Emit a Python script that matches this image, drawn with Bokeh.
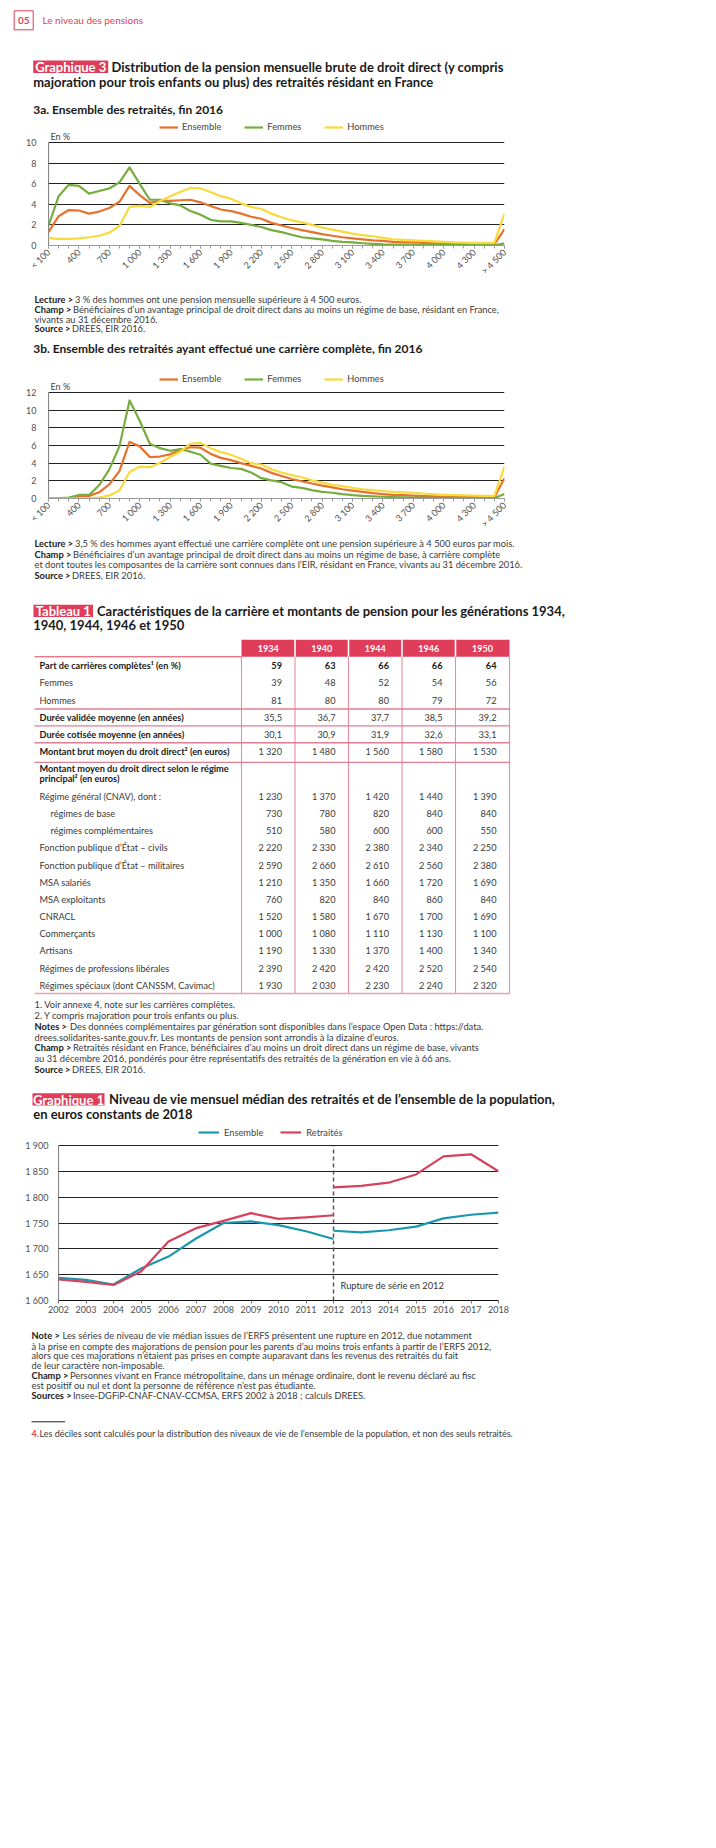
import math
from bokeh.plotting import figure
from bokeh.models import Range1d, FixedTicker, Legend, LegendItem, Label
from bokeh.layouts import column
from bokeh.embed import file_html
from bokeh.resources import INLINE
from bokeh.core.properties import value

# ---------------- data ----------------
categories_3 = ["< 100", "200", "300", "400", "500", "600", "700", "800", "900", "1 000",
                "1 100", "1 200", "1 300", "1 400", "1 500", "1 600", "1 700", "1 800", "1 900", "2 000",
                "2 100", "2 200", "2 300", "2 400", "2 500", "2 600", "2 700", "2 800", "2 900", "3 000",
                "3 100", "3 200", "3 300", "3 400", "3 500", "3 600", "3 700", "3 800", "3 900", "4 000",
                "4 100", "4 200", "4 300", "4 400", "4 500", "> 4 500"]
shown_ticks_3 = ["< 100", "400", "700", "1 000", "1 300", "1 600", "1 900", "2 200", "2 500",
                 "2 800", "3 100", "3 400", "3 700", "4 000", "4 300", "> 4 500"]

ens_3a = [1.3, 2.85, 3.45, 3.4, 3.1, 3.3, 3.65, 4.25, 5.8, 4.9, 4.15, 4.35, 4.35, 4.4, 4.45,
          4.2, 3.85, 3.5, 3.35, 3.1, 2.8, 2.6, 2.2, 1.95, 1.7, 1.5, 1.3, 1.1, 0.95, 0.8,
          0.7, 0.6, 0.5, 0.45, 0.35, 0.3, 0.3, 0.25, 0.2, 0.2, 0.15, 0.15, 0.12, 0.1, 0.1, 1.6]
fem_3a = [1.9, 4.8, 5.9, 5.8, 5.05, 5.3, 5.55, 6.15, 7.6, 6.0, 4.45, 4.45, 4.1, 3.9, 3.35,
          3.0, 2.5, 2.35, 2.35, 2.2, 2.0, 1.8, 1.5, 1.3, 1.05, 0.8, 0.7, 0.6, 0.45, 0.35,
          0.3, 0.22, 0.15, 0.1, 0.08, 0.07, 0.06, 0.05, 0.05, 0.04, 0.04, 0.03, 0.03, 0.03, 0.02, 0.2]
hom_3a = [0.72, 0.65, 0.65, 0.7, 0.8, 0.95, 1.25, 1.9, 3.75, 3.85, 3.75, 4.3, 4.8, 5.2, 5.6,
          5.55, 5.2, 4.8, 4.55, 4.1, 3.75, 3.55, 3.1, 2.75, 2.45, 2.25, 2.0, 1.75, 1.55, 1.35,
          1.15, 1.0, 0.9, 0.75, 0.6, 0.55, 0.5, 0.45, 0.4, 0.35, 0.3, 0.28, 0.25, 0.25, 0.25, 3.1]

ens_3b = [0.05, 0.05, 0.05, 0.2, 0.3, 0.7, 1.6, 3.1, 6.4, 5.9, 4.7, 4.75, 5.0, 5.5, 5.8,
          5.75, 5.05, 4.6, 4.35, 4.0, 3.7, 3.4, 2.9, 2.55, 2.2, 1.95, 1.7, 1.45, 1.25, 1.05,
          0.9, 0.75, 0.6, 0.5, 0.42, 0.38, 0.33, 0.28, 0.25, 0.2, 0.18, 0.15, 0.15, 0.12, 0.12, 2.3]
fem_3b = [0.05, 0.05, 0.1, 0.4, 0.4, 1.5, 3.3, 5.9, 11.1, 8.8, 6.2, 5.7, 5.4, 5.6, 5.3,
          4.95, 3.95, 3.7, 3.45, 3.35, 2.95, 2.3, 2.05, 1.85, 1.35, 1.2, 0.95, 0.75, 0.65, 0.5,
          0.38, 0.3, 0.25, 0.2, 0.15, 0.12, 0.1, 0.1, 0.08, 0.08, 0.07, 0.06, 0.06, 0.05, 0.05, 0.5]
hom_3b = [0.0, 0.0, 0.0, 0.02, 0.05, 0.1, 0.35, 0.9, 3.0, 3.6, 3.55, 4.05, 4.7, 5.3, 6.2,
          6.3, 5.7, 5.25, 4.95, 4.5, 4.0, 3.85, 3.3, 2.95, 2.65, 2.4, 2.05, 1.8, 1.55, 1.4,
          1.2, 1.05, 0.95, 0.85, 0.75, 0.7, 0.65, 0.55, 0.48, 0.42, 0.38, 0.35, 0.32, 0.3, 0.3, 3.6]

years_old = [2002, 2003, 2004, 2005, 2006, 2007, 2008, 2009, 2010, 2011, 2012]
ensemble_old = [1644, 1640, 1631, 1662, 1685, 1720, 1750, 1753, 1746, 1734, 1719]
retraites_old = [1641, 1636, 1630, 1656, 1714, 1740, 1754, 1769, 1758, 1761, 1765]
years_new = [2012, 2013, 2014, 2015, 2016, 2017, 2018]
ensemble_new = [1735, 1732, 1736, 1743, 1759, 1766, 1770]
retraites_new = [1819, 1822, 1828, 1844, 1879, 1883, 1850]
years_ticks = [2002, 2003, 2004, 2005, 2006, 2007, 2008, 2009, 2010, 2011, 2012,
               2013, 2014, 2015, 2016, 2017, 2018]
g1_yticks = [1600, 1650, 1700, 1750, 1800, 1850, 1900]
rupture_year = 2012

table_years = ["1934", "1940", "1944", "1946", "1950"]
table_labels = ["Part de carrières complètes\u00b9 (en %)", "Femmes", "Hommes",
                "Durée validée moyenne (en années)", "Durée cotisée moyenne (en années)",
                "Montant brut moyen du droit direct\u00b2 (en euros)",
                "Montant moyen du droit direct selon le régime|principal\u00b2 (en euros)",
                "Régime général (CNAV), dont :", "régimes de base", "régimes complémentaires",
                "Fonction publique d\u2019État \u2013 civils", "Fonction publique d\u2019État \u2013 militaires",
                "MSA salariés", "MSA exploitants", "CNRACL", "Commerçants", "Artisans",
                "Régimes de professions libérales", "Régimes spéciaux (dont CANSSM, Cavimac)"]
v1934 = [59, 39, 81, 35.5, 30.1, 1320, None, 1230, 730, 510, 2220, 2590, 1210, 760, 1520, 1000, 1190, 2390, 1930]
v1940 = [63, 48, 80, 36.7, 30.9, 1480, None, 1370, 780, 580, 2330, 2660, 1350, 820, 1580, 1080, 1330, 2420, 2030]
v1944 = [66, 52, 80, 37.7, 31.9, 1560, None, 1420, 820, 600, 2380, 2610, 1660, 840, 1670, 1110, 1370, 2420, 2230]
v1946 = [66, 54, 79, 38.5, 32.6, 1580, None, 1440, 840, 600, 2340, 2560, 1720, 860, 1700, 1130, 1400, 2520, 2240]
v1950 = [64, 56, 72, 39.2, 33.1, 1530, None, 1390, 840, 550, 2250, 2380, 1690, 840, 1690, 1100, 1340, 2540, 2320]

# ---------------- style ----------------
FONT = "Lato"
RED = "#e03d5b"
INK = "#1a1a1a"
TXT = "#3a3a3a"
C_ENS = "#e8722c"
C_FEM = "#76ad3f"
C_HOM = "#f8da3a"
C_G1E = "#1b98b0"
C_G1R = "#d6425c"
W = 700
TS = 13      # title size
SS = 12      # sub-title size
NS = 9.3     # note size
LEG_SHIFT = 4


def text_fig(top, bottom):
    p = figure(width=W, height=bottom - top, x_range=Range1d(8, 8 + W), y_range=Range1d(bottom, top),
               x_axis_location=None, y_axis_location=None, output_backend="svg",
               toolbar_location=None, min_border=0, outline_line_color=None, frame_align=False)
    p.grid.visible = False
    return p


def T(p, x, y, s, size=NS, bold=False, color=TXT, align="left"):
    p.text(x=[x], y=[y], text=[s], text_font=value(FONT), text_font_size=f"{size}px",
           text_font_style="bold" if bold else "normal", text_color=color,
           text_align=align, text_baseline="middle")


def note(p, x, y, prefix, rest, off, size=NS):
    T(p, x, y, prefix, size, True, INK)
    T(p, x + off, y, rest, size, False, TXT)


def tag(p, l, t, r, b, s, size):
    p.quad(left=[l], right=[r], top=[t], bottom=[b], fill_color=RED, line_color=None)
    T(p, (l + r) / 2, (t + b) / 2 + 0.3, s, size, True, "white", "center")


def make_legend(items, loc, gw, spacing, standoff):
    return Legend(items=items, orientation="horizontal", location=loc, glyph_width=gw, glyph_height=10,
                  label_height=10, label_width=10, label_standoff=standoff, spacing=spacing, padding=0,
                  margin=0, border_line_color=None, background_fill_alpha=0,
                  label_text_font=FONT, label_text_font_size="9.3px", label_text_color="#444")


def dist_chart(top, grid_top, frame_bottom, bottom, ymax, ens, fem, hom, legend_y):
    idx = list(range(len(categories_3)))
    fh = frame_bottom - top
    ytop = ymax * fh / (frame_bottom - grid_top)
    p = figure(width=W, height=bottom - top, x_range=Range1d(0, len(categories_3) - 1),
               y_range=Range1d(0, ytop), min_border_left=48, min_border_right=196,
               min_border_top=0, min_border_bottom=bottom - frame_bottom,
               output_backend="svg", toolbar_location=None, outline_line_color=None, frame_align=False)
    yt = list(range(0, ymax + 1, 2))
    p.xgrid.visible = False
    p.ygrid.ticker = FixedTicker(ticks=yt[1:])
    p.ygrid.grid_line_color = "#222"
    p.ygrid.grid_line_width = 1.2
    p.segment(x0=[0], y0=[0], x1=[0], y1=[ymax], line_color="#111", line_width=1.1)
    r1 = p.line(idx, ens, line_color=C_ENS, line_width=2.2, line_join="round")
    r2 = p.line(idx, fem, line_color=C_FEM, line_width=2.2, line_join="round")
    r3 = p.line(idx, hom, line_color=C_HOM, line_width=2.2, line_join="round")
    major = [categories_3.index(c) for c in shown_ticks_3]
    p.xaxis.ticker = FixedTicker(ticks=major, minor_ticks=idx)
    p.xaxis.major_label_overrides = {i: categories_3[i] for i in major}
    p.xaxis.major_label_orientation = math.pi / 4
    p.xaxis.axis_line_color = "#9a9a9a"
    p.xaxis.major_tick_line_color = "#9a9a9a"
    p.xaxis.minor_tick_line_color = "#9a9a9a"
    p.xaxis.major_tick_in = 0
    p.xaxis.major_tick_out = 3
    p.xaxis.minor_tick_in = 0
    p.xaxis.minor_tick_out = 3
    p.xaxis.major_label_standoff = 2
    p.yaxis.ticker = FixedTicker(ticks=yt, minor_ticks=[])
    p.yaxis.major_tick_line_color = None
    p.yaxis.minor_tick_line_color = None
    p.yaxis.axis_line_color = None
    p.yaxis.major_label_standoff = 6
    for ax in (p.xaxis, p.yaxis):
        ax.major_label_text_font = FONT
        ax.major_label_text_font_size = "9px"
        ax.major_label_text_color = "#505050"
    lg = make_legend([LegendItem(label="Ensemble", renderers=[r1]),
                      LegendItem(label="Femmes", renderers=[r2]),
                      LegendItem(label="Hommes", renderers=[r3])],
                     (111, frame_bottom - legend_y - 5 - LEG_SHIFT), 19, 23, 4)
    p.add_layout(lg, "center")
    p.add_layout(Label(x=0, y=ymax, x_offset=2, y_offset=1, text="En %", text_baseline="bottom",
                       text_font=FONT, text_font_size="9px", text_color="#444"))
    return p


# ---------------- section 1 ----------------
s1 = text_fig(8, 124)
s1.quad(left=[21.7], right=[40.7], top=[18.3], bottom=[37.3], fill_color=None, line_color=RED, line_width=1)
T(s1, 31.2, 28, "05", 10, True, RED, "center")
T(s1, 50, 27.5, "Le niveau des pensions", 10, False, RED)
tag(s1, 40.7, 68, 115.7, 80.5, "Graphique 3", TS)
T(s1, 119, 74, "Distribution de la pension mensuelle brute de droit direct (y compris", TS, True, INK)
T(s1, 40.7, 89, "majoration pour trois enfants ou plus) des retraités résidant en France", TS, True, INK)
T(s1, 40.7, 117, "3a. Ensemble des retraités, fin 2016", SS, True, INK)

# ---------------- chart 3a ----------------
c3a = dist_chart(124, 151, 257, 290, 10, ens_3a, fem_3a, hom_3a, 135)

# ---------------- section 3 ----------------
s3 = text_fig(290, 372)
note(s3, 42, 306.7, "Lecture >", "3 % des hommes ont une pension mensuelle supérieure à 4 500 euros.", 40.5)
note(s3, 42, 316.7, "Champ >", "Bénéficiaires d\u2019un avantage principal de droit direct dans au moins un régime de base, résidant en France,", 38.5)
T(s3, 42, 326.7, "vivants au 31 décembre 2016.")
note(s3, 42, 336.3, "Source >", "DREES, EIR 2016.", 37.5)
T(s3, 40.7, 355.7, "3b. Ensemble des retraités ayant effectué une carrière complète, fin 2016", SS, True, INK)

# ---------------- chart 3b ----------------
c3b = dist_chart(372, 400, 506, 543, 12, ens_3b, fem_3b, hom_3b, 383.3)

# ---------------- section 5 (notes 3b + table) ----------------
s5 = text_fig(543, 1130)
note(s5, 42, 550.7, "Lecture >", "3,5 % des hommes ayant effectué une carrière complète ont une pension supérieure à 4 500 euros par mois.", 40.5)
note(s5, 42, 561.5, "Champ >", "Bénéficiaires d\u2019un avantage principal de droit direct dans au moins un régime de base, à carrière complète", 38.5)
T(s5, 42, 572.2, "et dont toutes les composantes de la carrière sont connues dans l\u2019EIR, résidant en France, vivants au 31 décembre 2016.")
note(s5, 42, 582.5, "Source >", "DREES, EIR 2016.", 37.5)
tag(s5, 41, 612.3, 100.5, 624.5, "Tableau 1", TS)
T(s5, 104.5, 618.3, "Caractéristiques de la carrière et montants de pension pour les générations 1934,", TS, True, INK)
T(s5, 40.7, 632.7, "1940, 1944, 1946 et 1950", TS, True, INK)

col_edges = [249, 302.5, 356, 409.5, 463, 517]
tab_left = 42
head_top, head_bot = 647.3, 664.3
tab_bottom = 1001
row_y = [672.7, 690.2, 708, 725, 741.8, 758.7, 781, 803.7, 821, 837.9, 855, 872.5,
         889.8, 906.9, 924, 941.2, 958.3, 975.6, 992.8]
sep_after = [2, 3, 4, 5]
bold_label_rows = [0, 3, 4, 5, 6]
bold_value_rows = [0]
indent_rows = [8, 9]


def fmt(v):
    if v is None:
        return ""
    if isinstance(v, float):
        return f"{v:.1f}".replace(".", ",")
    if v >= 1000:
        return f"{v:,}".replace(",", "\u202f")
    return str(v)


for i, yr in enumerate(table_years):
    l = col_edges[i] + (0 if i == 0 else 0.8)
    r = col_edges[i + 1] - (0 if i == len(table_years) - 1 else 0.8)
    s5.quad(left=[l], right=[r], top=[head_top], bottom=[head_bot], fill_color=RED, line_color=None)
    T(s5, (col_edges[i] + col_edges[i + 1]) / 2, (head_top + head_bot) / 2, yr, 9, True, "white", "center")
s5.segment(x0=[tab_left], y0=[head_bot], x1=[col_edges[0]], y1=[head_bot], line_color=RED, line_width=1)
s5.segment(x0=col_edges, y0=[head_bot] * len(col_edges), x1=col_edges, y1=[tab_bottom] * len(col_edges),
           line_color="#e58ea0", line_width=1.1)
for k in sep_after:
    ys = (row_y[k] + row_y[k + 1]) / 2
    s5.segment(x0=[tab_left], y0=[ys], x1=[col_edges[-1]], y1=[ys], line_color="#e27d92", line_width=1.3)
s5.segment(x0=[tab_left], y0=[tab_bottom], x1=[col_edges[-1]], y1=[tab_bottom], line_color="#e8a2b1", line_width=1.6)

columns = [v1934, v1940, v1944, v1946, v1950]
for r, lab in enumerate(table_labels):
    y = row_y[r]
    x = 58 if r in indent_rows else 47
    b = r in bold_label_rows
    parts = lab.split("|")
    if len(parts) == 2:
        T(s5, x, y - 5, parts[0], 9.2, b, INK if b else TXT)
        T(s5, x, y + 5, parts[1], 9.2, b, INK if b else TXT)
    else:
        T(s5, x, y, lab, 9.2, b, INK if b else TXT)
    for c, col in enumerate(columns):
        bv = r in bold_value_rows
        T(s5, col_edges[c + 1] - 13, y, fmt(col[r]), 9.2, bv, INK if bv else TXT, "right")

T(s5, 42, 1012.3, "1. Voir annexe 4, note sur les carrières complètes.")
T(s5, 42, 1022.8, "2. Y compris majoration pour trois enfants ou plus.")
note(s5, 42, 1034, "Notes >", "Des données complémentaires par génération sont disponibles dans l\u2019espace Open Data : https://data.", 35.5)
T(s5, 42, 1044.8, "drees.solidarites-sante.gouv.fr. Les montants de pension sont arrondis à la dizaine d\u2019euros.")
note(s5, 42, 1055.4, "Champ >", "Retraités résidant en France, bénéficiaires d\u2019au moins un droit direct dans un régime de base, vivants", 38.5)
T(s5, 42, 1066, "au 31 décembre 2016, pondérés pour être représentatifs des retraités de la génération en vie à 66 ans.")
note(s5, 42, 1076.7, "Source >", "DREES, EIR 2016.", 37.5)

tag(s5, 40, 1100.8, 112, 1113, "Graphique 1", TS)
T(s5, 116.5, 1106.7, "Niveau de vie mensuel médian des retraités et de l\u2019ensemble de la population,", TS, True, INK)
T(s5, 40.7, 1121.7, "en euros constants de 2018", TS, True, INK)

# ---------------- chart G1 ----------------
g1_top, g1_grid_top, g1_frame_bottom, g1_bottom = 1130, 1153, 1308, 1330
ylo, yhi = g1_yticks[0], g1_yticks[-1]
g1_ytop = ylo + (yhi - ylo) * (g1_frame_bottom - g1_top) / (g1_frame_bottom - g1_grid_top)
g1 = figure(width=W, height=g1_bottom - g1_top, x_range=Range1d(years_ticks[0], years_ticks[-1]),
            y_range=Range1d(ylo, g1_ytop), min_border_left=58, min_border_right=202,
            min_border_top=0, min_border_bottom=g1_bottom - g1_frame_bottom, output_backend="svg",
            toolbar_location=None, outline_line_color=None, frame_align=False)
g1.xgrid.visible = False
g1.ygrid.ticker = FixedTicker(ticks=g1_yticks[1:])
g1.ygrid.grid_line_color = "#222"
g1.ygrid.grid_line_width = 1.2
g1.segment(x0=[years_ticks[0]], y0=[ylo], x1=[years_ticks[0]], y1=[yhi], line_color="#111", line_width=1.1)
g1.segment(x0=[rupture_year], y0=[ylo], x1=[rupture_year], y1=[yhi], line_color="#555",
           line_width=1.5, line_dash="4 3")
re1 = g1.line(years_old, ensemble_old, line_color=C_G1E, line_width=2.2, line_join="round")
g1.line(years_new, ensemble_new, line_color=C_G1E, line_width=2.2, line_join="round")
rr1 = g1.line(years_old, retraites_old, line_color=C_G1R, line_width=2.2, line_join="round")
g1.line(years_new, retraites_new, line_color=C_G1R, line_width=2.2, line_join="round")
g1.xaxis.ticker = FixedTicker(ticks=years_ticks, minor_ticks=[])
g1.yaxis.ticker = FixedTicker(ticks=g1_yticks, minor_ticks=[])
g1.yaxis.major_label_overrides = {v: f"{v:,}".replace(",", "\u202f") for v in g1_yticks}
g1.xaxis.major_tick_in = 0
g1.xaxis.major_tick_out = 3
g1.xaxis.major_tick_line_color = "#777"
g1.xaxis.axis_line_color = "#111"
g1.xaxis.major_label_standoff = 2
g1.yaxis.major_tick_line_color = None
g1.yaxis.axis_line_color = None
g1.yaxis.major_label_standoff = 4
for ax in (g1.xaxis, g1.yaxis):
    ax.major_label_text_font = FONT
    ax.major_label_text_font_size = "9px"
    ax.major_label_text_color = "#505050"
g1.add_layout(Label(x=rupture_year, y=1630, x_offset=7, text="Rupture de série en 2012", text_baseline="middle",
                    text_font=FONT, text_font_size="9.3px", text_color="#333"))
lg1 = make_legend([LegendItem(label="Ensemble", renderers=[re1]),
                   LegendItem(label="Retraités", renderers=[rr1])],
                  (140, g1_frame_bottom - 1138.3 - 5 - 2.5), 21, 17, 5)
g1.add_layout(lg1, "center")

# ---------------- section 7 ----------------
s7 = text_fig(1330, 1460)
note(s7, 39, 1343.3, "Note >", "Les séries de niveau de vie médian issues de l\u2019ERFS présentent une rupture en 2012, due notamment", 31)
T(s7, 39, 1353.6, "à la prise en compte des majorations de pension pour les parents d\u2019au moins trois enfants à partir de l\u2019ERFS 2012,")
T(s7, 39, 1363.3, "alors que ces majorations n\u2019étaient pas prises en compte auparavant dans les revenus des retraités du fait")
T(s7, 39, 1373, "de leur caractère non-imposable.")
note(s7, 39, 1382.7, "Champ >", "Personnes vivant en France métropolitaine, dans un ménage ordinaire, dont le revenu déclaré au fisc", 38.5)
T(s7, 39, 1392.7, "est positif ou nul et dont la personne de référence n\u2019est pas étudiante.")
note(s7, 39, 1402.7, "Sources >", "Insee-DGFiP-CNAF-CNAV-CCMSA, ERFS 2002 à 2018 ; calculs DREES.", 41.5)
s7.segment(x0=[39], y0=[1429.3], x1=[72.5], y1=[1429.3], line_color="#222", line_width=1)
T(s7, 39, 1440.7, "4.", 9, True, RED)
T(s7, 47, 1440.7, "Les déciles sont calculés pour la distribution des niveaux de vie de l\u2019ensemble de la population, et non des seuls retraités.", 9, False, TXT)

layout = column(s1, c3a, s3, c3b, s5, g1, s7, spacing=0)
open("out.html", "w").write(file_html(layout, INLINE))
